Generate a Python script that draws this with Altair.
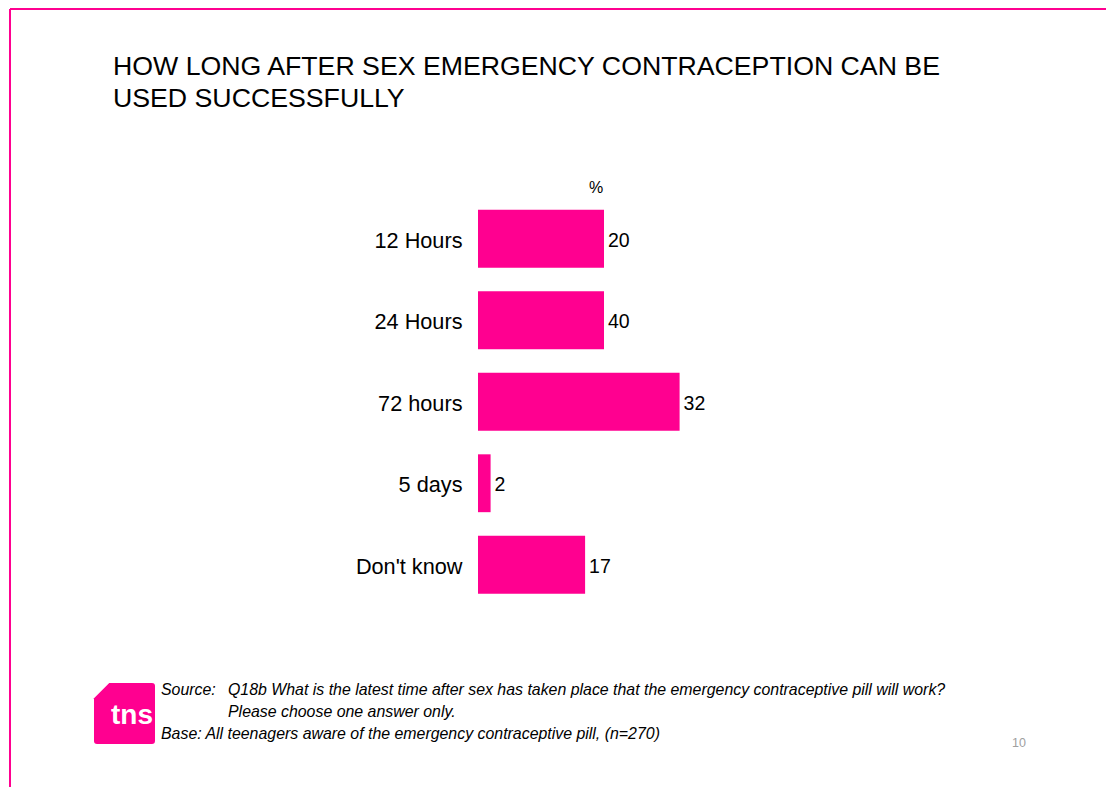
import altair as alt
import pandas as pd

categories = ["12 Hours", "24 Hours", "72 hours", "5 days", "Don't know"]
bar_lengths = [20, 20, 32, 2, 17]          # bar lengths as drawn in the picture
value_labels = ["20", "40", "32", "2", "17"]  # printed numbers

title_lines = ["HOW LONG AFTER SEX EMERGENCY CONTRACEPTION CAN BE", "USED SUCCESSFULLY"]
source_label = "Source:"
source_lines = ["Q18b What is the latest time after sex has taken place that the emergency contraceptive pill will work?",
                "Please choose one answer only."]
base_line = "Base: All teenagers aware of the emergency contraceptive pill, (n=270)"
unit_label = "%"
page_no = "10"
logo_text = "tns"

PINK = "#FF0090"
FONT = "Liberation Sans"

df = pd.DataFrame({"cat": categories, "len": bar_lengths, "lab": value_labels})
one = alt.InlineData(values=[{"k": 1}])

y_enc = alt.Y("cat:N", sort=categories, title=None,
              scale=alt.Scale(paddingInner=0.29, paddingOuter=0.145),
              axis=alt.Axis(domain=False, ticks=False, labelFontSize=21.7, labelFont=FONT,
                            labelColor="#000000", labelPadding=16, labelOffset=2))
x_enc = alt.X("len:Q", title=None, scale=alt.Scale(domain=[0, 40], nice=False), axis=None)

bars = alt.Chart(df).mark_bar(color=PINK).encode(x=x_enc, y=y_enc)
vals = alt.Chart(df).mark_text(align="left", baseline="middle", dx=4, dy=2, fontSize=19.5, font=FONT,
                               color="#000000").encode(x=x_enc, y=y_enc, text="lab:N")


def txt(s, x, y, size, align="left", baseline="alphabetic", color="#000000", style="normal",
        weight="normal"):
    return alt.Chart(one).mark_text(align=align, baseline=baseline, fontSize=size, font=FONT,
                                    color=color, fontStyle=style, fontWeight=weight).encode(
        x=alt.value(x), y=alt.value(y), text=alt.value(s))


layers = [bars, vals]
layers.append(txt(title_lines[0], -365, -123, 26.7))
layers.append(txt(title_lines[1], -365, -91.5, 26.7))
layers.append(txt(unit_label, 118, -10, 16, align="center", baseline="middle"))
layers.append(txt(source_label, -317, 497, 15.9, style="italic"))
layers.append(txt(source_lines[0], -250, 497, 15.9, style="italic"))
layers.append(txt(source_lines[1], -250, 519, 15.9, style="italic"))
layers.append(txt(base_line, -317, 541, 15.9, style="italic"))
layers.append(txt(page_no, 541, 549, 12.5, align="center", color="#A0A0A0"))

# logo
logo = alt.Chart(one).mark_point(
    shape="M -0.5 -1 L 0.9 -1 Q 1 -1 1 -0.9 L 1 0.9 Q 1 1 0.9 1 L -0.9 1 Q -1 1 -1 0.9 L -1 -0.5 Z",
    filled=True, color=PINK, opacity=1, size=3721).encode(x=alt.value(-353.5), y=alt.value(515.5))
layers.append(logo)
layers.append(txt(logo_text, -367, 526, 28, color="#FFFFFF", weight="bold"))

# frame
frame_left = alt.Chart(one).mark_rule(color=PINK, strokeWidth=2).encode(
    x=alt.value(-468), y=alt.value(-189), y2=alt.value(600))
frame_top = alt.Chart(one).mark_rule(color=PINK, strokeWidth=2).encode(
    y=alt.value(-189), x=alt.value(-468), x2=alt.value(640))
layers += [frame_left, frame_top]

chart = alt.layer(*layers).properties(
    width=252, height=407.5,
    autosize=alt.AutoSizeParams(type="none"),
    padding={"left": 478, "top": 198, "right": 376, "bottom": 181.5},
    background="#FFFFFF",
).configure_view(stroke=None)

chart.save("out.html", embed_options={"renderer": "svg", "actions": False})
